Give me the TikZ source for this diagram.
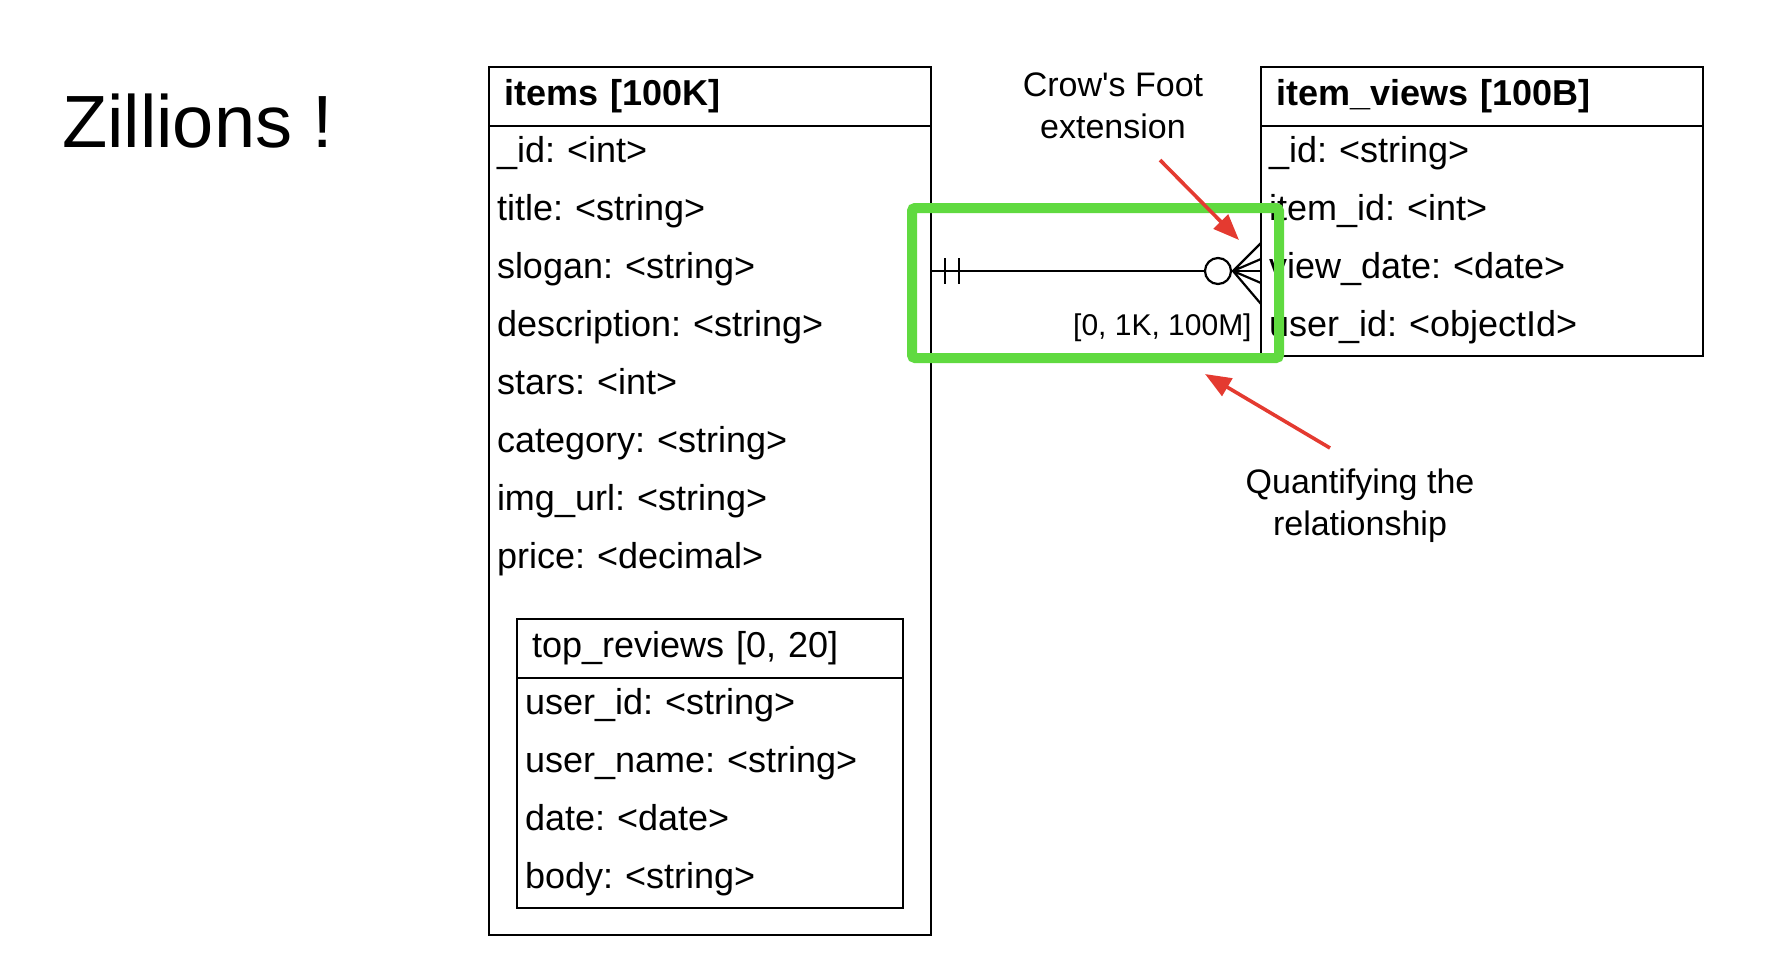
\documentclass[tikz,border=0pt]{standalone}
\usepackage{fontspec}
\setmainfont{Liberation Sans}
\usetikzlibrary{positioning,chains,arrows.meta}
\definecolor{hlgreen}{RGB}{96,218,64}
\definecolor{arrowred}{RGB}{228,58,48}
\frenchspacing

\begin{document}
\begin{tikzpicture}[
    x=0.5pt, y=-0.5pt,
    node distance=0pt,
 tablehead/.style = {
        draw, rectangle, align=left, text width=206pt,
        font=\fontsize{18}{21}\selectfont\bfseries,
        inner xsep=7.5pt, inner ysep=0pt, outer sep=0pt,
        minimum height=29.5pt, line width=1.1pt},
 tablebody/.style = {
        draw, rectangle, inner sep=0pt, outer sep=0pt,
        minimum width=221pt, line width=1.1pt},
     field/.style = {
        rectangle, align=left, text width=213pt,
        font=\fontsize{18}{21}\selectfont,
        text height=12pt, text depth=5pt,
        inner xsep=4pt, inner ysep=0pt, outer sep=0pt,
        minimum height=29pt, on chain},
      note/.style = {align=center, font=\fontsize{17}{21}\selectfont},
 cardlabel/.style = {font=\fontsize{15}{18}\selectfont, inner sep=0pt},
      conn/.style = {line width=1.1pt},
  redarrow/.style = {line width=1.8pt, draw=arrowred,
                     -{Triangle[length=13pt,width=10pt]}},
    hilite/.style = {draw=hlgreen, line width=5pt, rounded corners=1.5pt,
                     rectangle, inner sep=0pt, outer sep=0pt,
                     minimum width=183.5pt, minimum height=75pt}
                    ]
\useasboundingbox (0,0) rectangle (1784,966);
% the title
\node (title) [anchor=base west, font=\fontsize{37}{44}\selectfont]
      at (55,147) {Zillions !};
% the items table
\node (items) [tablehead, anchor=north west] at (489,67) {items [100K]};
\node (itemsbody) [tablebody, minimum height=404.5pt, below=of items] {};
    \begin{scope}[start chain=irows going below]
\node (iid)    [field, below=0pt of itemsbody.north] {\_id: <int>};
\node (ititle) [field]  {title: <string>};
\node (islogan)[field]  {slogan: <string>};
\node (idesc)  [field]  {description: <string>};
\node (istars) [field]  {stars: <int>};
\node (icat)   [field]  {category: <string>};
\node (iimg)   [field]  {img\_url: <string>};
\node (iprice) [field]  {price: <decimal>};
    \end{scope}
% the embedded reviews
\node (reviews) [tablehead, font=\fontsize{18}{21}\selectfont,
                 text width=178pt, below=14.5pt of iprice]
                {top\_reviews [0, 20]};
\node (reviewsbody) [tablebody, minimum width=193pt, minimum height=115pt,
                     below=of reviews] {};
    \begin{scope}[start chain=rrows going below]
\node (ruser)  [field, text width=185pt, below=0pt of reviewsbody.north]
               {user\_id: <string>};
\node (rname)  [field, text width=185pt]  {user\_name: <string>};
\node (rdate)  [field, text width=185pt]  {date: <date>};
\node (rbody)  [field, text width=185pt]  {body: <string>};
    \end{scope}
% the item_views table
\node (views) [tablehead, anchor=north west] at (1261,67) {item\_views [100B]};
\node (viewsbody) [tablebody, minimum height=115pt, below=of views] {};
    \begin{scope}[start chain=vrows going below]
\node (vid)    [field, below=0pt of viewsbody.north] {\_id: <string>};
\node (vitem)  [field]  {item\_id: <int>};
\node (vdate)  [field]  {view\_date: <date>};
\node (vuser)  [field]  {user\_id: <objectId>};
    \end{scope}
% the relationship with its crow's foot ends
\draw[conn] (islogan.east) -- (vdate.west);
\draw[conn] ([xshift=7pt,yshift=6.5pt]islogan.east)
                                       -- ([xshift=7pt,yshift=-6.5pt]islogan.east);
\draw[conn] ([xshift=14pt,yshift=6.5pt]islogan.east)
                                       -- ([xshift=14pt,yshift=-6.5pt]islogan.east);
\coordinate (foot) at ([xshift=-14pt]vdate.west);
\draw[conn] ([yshift=14pt]vdate.west) -- (foot) -- ([yshift=-16.5pt]vdate.west)
            ([yshift=6pt]vdate.west) -- (foot) -- ([yshift=-6pt]vdate.west);
\draw[conn, fill=white] ([xshift=-21.5pt]vdate.west) circle[radius=6.5pt];
\node (card) [cardlabel, left=4.5pt of vdate.west, yshift=-28.5pt] {[0, 1K, 100M]};
% the highlight and the notes
\node (focus) [hilite] at (1095.5,283) {};
\node (cfnote) [note] at (1113,106) {Crow\textquotesingle s Foot\\extension};
\node (qnote)  [note] at (1360,506) {Quantifying the\\relationship};
\coordinate (cftail) at (1160,160);
\coordinate (cftip)  at (1239,240);
\coordinate (qtail)  at (1330,448);
\coordinate (qtip)   at (1205,374);
\draw[redarrow] (cftail) -- (cftip);
\draw[redarrow] (qtail) -- (qtip);
\end{tikzpicture}
\end{document}
